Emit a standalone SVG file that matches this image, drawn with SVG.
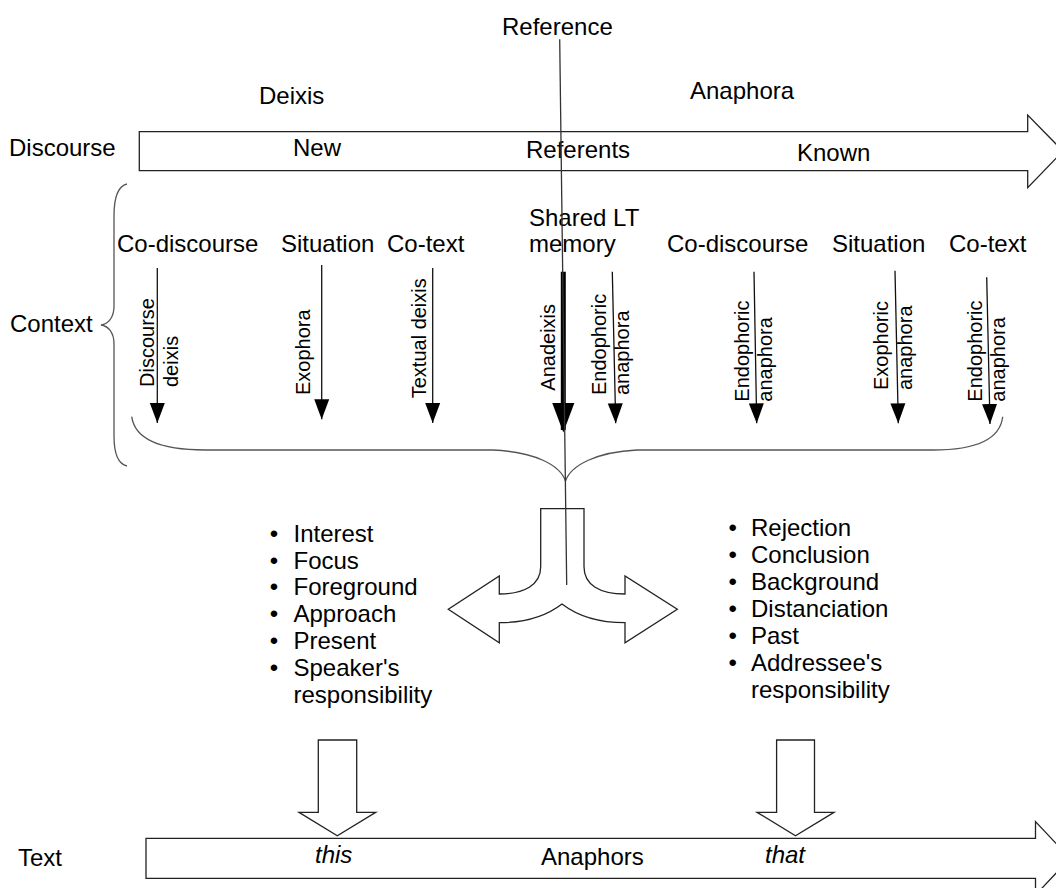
<svg xmlns="http://www.w3.org/2000/svg" width="1056" height="888" viewBox="0 0 1056 888">
<style>
text{font-family:"Liberation Sans",Arial,sans-serif;font-size:24px;fill:#000}
.sm{font-size:20px}
.it{font-style:italic}
.big{fill:#fff;stroke:#222;stroke-width:1.3}
.brace{fill:none;stroke:#555;stroke-width:1.3}
.thin{stroke:#111;stroke-width:1.3;fill:none}
</style>
<defs>
<marker id="ah" markerUnits="userSpaceOnUse" markerWidth="20" markerHeight="20" viewBox="0 0 16 12" refX="16" refY="6" orient="auto">
<path d="M0,0 L16,6 L0,12 Z" fill="#000"/>
</marker>
<marker id="ahb" markerUnits="userSpaceOnUse" markerWidth="30" markerHeight="30" viewBox="0 0 24 18" refX="22" refY="9" orient="auto">
<path d="M0,0 L24,9 L0,18 Z" fill="#000"/>
</marker>
</defs>
<rect width="1056" height="888" fill="#fff"/>

<g id="reference">
<text x="502" y="35">Reference</text>
</g>
<g id="deixis"><text x="259" y="104">Deixis</text></g>
<g id="anaphora"><text x="690" y="99">Anaphora</text></g>

<g id="discourse-arrow">
<path class="big" d="M139.3,131.7 L1027.7,131.7 L1027.7,115 L1063,151.2 L1027.7,187.7 L1027.7,170.7 L139.3,170.7 Z"/>
<text x="9" y="156">Discourse</text>
<text x="293" y="156">New</text>
<text x="526" y="158">Referents</text>
<text x="797" y="161">Known</text>
</g>

<g id="context">
<text x="10" y="331.7">Context</text>
<path class="brace" d="M127,184 C118,186 114,196 114,216 L114,306 C114,318 108,324 101,325 C108,326 114,332 114,344 L114,436 C114,455 118,464 127,466"/>
</g>

<g id="headers">
<text x="117" y="252.3">Co-discourse</text>
<text x="281" y="252.3">Situation</text>
<text x="387" y="252.3">Co-text</text>
<text x="529" y="225.7">Shared LT</text>
<text x="529" y="251.7">memory</text>
<text x="667" y="252">Co-discourse</text>
<text x="832" y="252">Situation</text>
<text x="949" y="252">Co-text</text>
</g>

<g id="labels">
<text class="sm" transform="translate(154,387) rotate(-90)">Discourse</text>
<text class="sm" transform="translate(178,387) rotate(-90)">deixis</text>
<text class="sm" transform="translate(309.5,395) rotate(-90)">Exophora</text>
<text class="sm" transform="translate(426,398.3) rotate(-90)">Textual deixis</text>
<text class="sm" transform="translate(555,390.7) rotate(-90)">Anadeixis</text>
<text class="sm" transform="translate(606,395) rotate(-90)">Endophoric</text>
<text class="sm" transform="translate(629,395) rotate(-90)">anaphora</text>
<text class="sm" transform="translate(748.6,401.7) rotate(-90)">Endophoric</text>
<text class="sm" transform="translate(772,401.7) rotate(-90)">anaphora</text>
<text class="sm" transform="translate(888.3,390) rotate(-90)">Exophoric</text>
<text class="sm" transform="translate(911.5,390) rotate(-90)">anaphora</text>
<text class="sm" transform="translate(982,401.7) rotate(-90)">Endophoric</text>
<text class="sm" transform="translate(1005,401.7) rotate(-90)">anaphora</text>
</g>

<g id="connectors">
<line class="thin" x1="157.3" y1="268" x2="157.3" y2="423" marker-end="url(#ah)"/>
<line class="thin" x1="321.7" y1="265" x2="321.7" y2="419.3" marker-end="url(#ah)"/>
<line class="thin" x1="432.7" y1="268" x2="432.7" y2="423" marker-end="url(#ah)"/>
<line x1="563.3" y1="271.7" x2="563.3" y2="430" stroke="#000" stroke-width="5" marker-end="url(#ahb)"/>
<line class="thin" x1="612.3" y1="271.7" x2="615.7" y2="423.3" marker-end="url(#ah)"/>
<line class="thin" x1="754" y1="271.7" x2="756.7" y2="423.3" marker-end="url(#ah)"/>
<line class="thin" x1="895" y1="270.7" x2="898.3" y2="423.3" marker-end="url(#ah)"/>
<line class="thin" x1="986.7" y1="277.3" x2="990" y2="424" marker-end="url(#ah)"/>
<path class="brace" d="M131.7,416.7 C135,440 160,450 205,450 L493,450 C535,452 560,465 565.5,481 C571,465 597,452 637,450 L933,450 C975,450 1000,440 1002.7,416.7"/>
</g>

<g id="split-arrow">
<path class="big" d="M540.7,508.7 L584,508.7 L584,566.7 C584,585 600,594 625,594 L625,576 L677.3,609.3 L625,642.7 L625,622.7 C595,622.7 575,614 562,604 C549,614 529,622.7 499.3,622.7 L499.3,642.7 L448.3,609.3 L499.3,576 L499.3,594 C524,594 540.7,585 540.7,566.7 Z"/>
</g>

<g id="reference-line">
<line x1="559.7" y1="39.3" x2="566.7" y2="585" stroke="#333" stroke-width="1.3"/>
</g>

<g id="left-list">
<text x="274" y="541.7" text-anchor="middle">•</text><text x="293.5" y="541.7">Interest</text>
<text x="274" y="568.5" text-anchor="middle">•</text><text x="293.5" y="568.5">Focus</text>
<text x="274" y="595.3" text-anchor="middle">•</text><text x="293.5" y="595.3">Foreground</text>
<text x="274" y="622.1" text-anchor="middle">•</text><text x="293.5" y="622.1">Approach</text>
<text x="274" y="648.9" text-anchor="middle">•</text><text x="293.5" y="648.9">Present</text>
<text x="274" y="675.7" text-anchor="middle">•</text><text x="293.5" y="675.7">Speaker's</text>
<text x="293.5" y="702.5">responsibility</text>
</g>

<g id="right-list">
<text x="732.7" y="535.7" text-anchor="middle">•</text><text x="751" y="535.7">Rejection</text>
<text x="732.7" y="562.7" text-anchor="middle">•</text><text x="751" y="562.7">Conclusion</text>
<text x="732.7" y="589.7" text-anchor="middle">•</text><text x="751" y="589.7">Background</text>
<text x="732.7" y="616.7" text-anchor="middle">•</text><text x="751" y="616.7">Distanciation</text>
<text x="732.7" y="643.7" text-anchor="middle">•</text><text x="751" y="643.7">Past</text>
<text x="732.7" y="670.7" text-anchor="middle">•</text><text x="751" y="670.7">Addressee's</text>
<text x="751" y="697.7">responsibility</text>
</g>

<g id="this-arrow">
<path class="big" d="M318.3,740 L356.7,740 L356.7,812.3 L375.7,812.3 L337.3,835.7 L299,812.3 L318.3,812.3 Z"/>
</g>
<g id="that-arrow">
<path class="big" d="M776.6,740 L814.5,740 L814.5,812.3 L834,812.3 L795.5,835.7 L757,812.3 L776.6,812.3 Z"/>
</g>

<g id="text-arrow">
<path class="big" d="M146,838.3 L1035.5,838.3 L1035.5,821.6 L1070,858.3 L1035.5,895 L1035.5,878.3 L146,878.3 Z"/>
<text x="18" y="866">Text</text>
<text class="it" x="315" y="863.3">this</text>
<text x="541" y="865">Anaphors</text>
<text class="it" x="765" y="862.7">that</text>
</g>
</svg>
